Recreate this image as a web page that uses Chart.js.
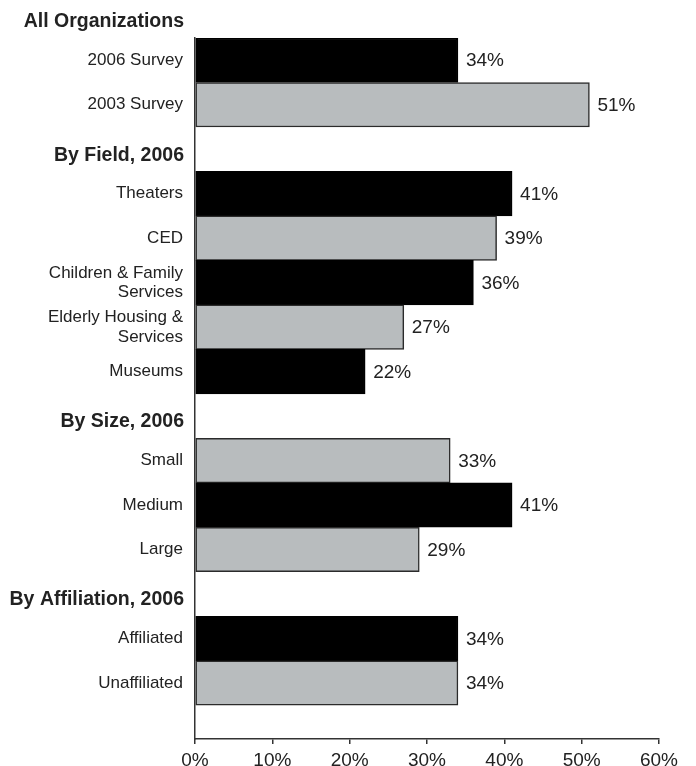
<!DOCTYPE html>
<html lang="en">
<head>
    <meta charset="UTF-8">
    <title>Share of organizations</title>
    <script src="https://cdn.jsdelivr.net/npm/chart.js"></script>
    <style>
        body { margin: 0; background: #fff; }
        #box { width: 696px; height: 766px; }
    </style>
</head>
<body>
    <div id="box"><canvas id="grafico"></canvas></div>
    <script>
        // one entry per bar row, top to bottom; '' marks a group heading row
        const categories = ['2006 Survey', '2003 Survey', '',
            'Theaters', 'CED', ['Children & Family', 'Services'], ['Elderly Housing &', 'Services'], 'Museums', '',
            'Small', 'Medium', 'Large', '',
            'Affiliated', 'Unaffiliated'];
        const values = [34, 51, null, 41, 39, 36, 27, 22, null, 33, 41, 29, null, 34, 34];
        const headers = ['All Organizations', 'By Field, 2006', 'By Size, 2006', 'By Affiliation, 2006'];
        const headerRows = [-1, 2, 8, 12];
        const xTicks = [0, 10, 20, 30, 40, 50, 60];

        // dark / light bar shading per row
        const shade = ['d', 'l', '', 'd', 'l', 'd', 'l', 'd', '', 'l', 'd', 'l', '', 'd', 'l'];
        const cores = { d: '#000000', l: '#b8bcbe' };
        const bordas = { d: '#000000', l: '#2b2b2b' };

        const fonte = '"Liberation Sans", Arial, sans-serif';

        const pontos = [];
        const corFundo = [];
        const corBorda = [];
        values.forEach((v, i) => {
            if (v === null) return;
            pontos.push({ x: v, y: i });
            corFundo.push(cores[shade[i]]);
            corBorda.push(bordas[shade[i]]);
        });

        // group headings, drawn against the y scale
        const cabecalhos = {
            id: 'cabecalhos',
            afterDraw(chart) {
                const ctx = chart.ctx;
                const y = chart.scales.y;
                ctx.save();
                ctx.font = 'bold 19.5px ' + fonte;
                ctx.fillStyle = '#222';
                ctx.textAlign = 'right';
                ctx.textBaseline = 'middle';
                headers.forEach((h, i) => {
                    ctx.fillText(h, y.right - 11, y.getPixelForValue(headerRows[i]) + 6);
                });
                ctx.restore();
            }
        };

        // percentage written at the end of each bar
        const rotulos = {
            id: 'rotulos',
            afterDatasetsDraw(chart) {
                const ctx = chart.ctx;
                const meta = chart.getDatasetMeta(0);
                ctx.save();
                ctx.font = '19px ' + fonte;
                ctx.fillStyle = '#222';
                ctx.textAlign = 'left';
                ctx.textBaseline = 'middle';
                meta.data.forEach((bar, i) => {
                    ctx.fillText(pontos[i].x + '%', bar.x + 8, bar.y + 1);
                });
                ctx.restore();
            }
        };

        new Chart(document.getElementById('grafico'), {
            type: 'bar',
            data: {
                datasets: [{
                    data: pontos,
                    backgroundColor: corFundo,
                    borderColor: corBorda,
                    borderWidth: 1.5,
                    borderSkipped: false,
                    barPercentage: 1,
                    categoryPercentage: 1
                }]
            },
            options: {
                indexAxis: 'y',
                responsive: true,
                maintainAspectRatio: false,
                animation: false,
                layout: { padding: { top: 38, right: 37, bottom: 0, left: 0 } },
                plugins: {
                    legend: { display: false },
                    tooltip: { enabled: false }
                },
                scales: {
                    x: {
                        type: 'linear',
                        min: 0,
                        max: 60,
                        afterBuildTicks: (s) => { s.ticks = xTicks.map(v => ({ value: v })); },
                        afterFit: (s) => { s.height = 27; },
                        grid: { drawOnChartArea: false, drawTicks: true, tickLength: 5, color: '#333', lineWidth: 1.5 },
                        border: { display: true, color: '#333', width: 1.5 },
                        ticks: {
                            padding: 5,
                            color: '#222',
                            font: { family: fonte, size: 19 },
                            callback: (v) => v + '%'
                        }
                    },
                    y: {
                        type: 'linear',
                        reverse: true,
                        offset: false,
                        min: -0.5,
                        max: 15.26,
                        afterBuildTicks: (s) => { s.ticks = categories.map((c, i) => ({ value: i })); },
                        afterFit: (s) => { s.width = 195; },
                        grid: { display: false, drawTicks: false },
                        border: { display: true, color: '#333', width: 1.5 },
                        ticks: {
                            padding: 12,
                            color: '#222',
                            font: { family: fonte, size: 17, lineHeight: 1.15 },
                            callback: (v) => categories[v] || ''
                        }
                    }
                }
            },
            plugins: [cabecalhos, rotulos]
        });
    </script>
</body>
</html>
